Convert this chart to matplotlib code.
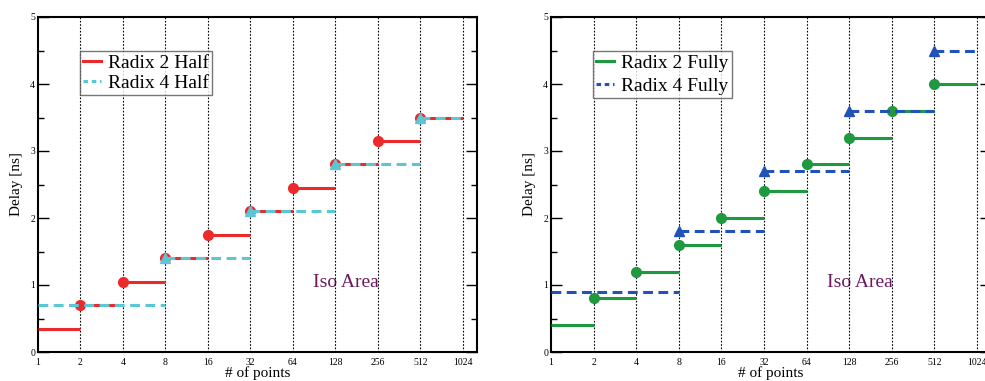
import numpy as np
import matplotlib
matplotlib.use("Agg")
import matplotlib.pyplot as plt
from matplotlib.lines import Line2D
from matplotlib.ticker import FixedLocator, MultipleLocator, NullLocator

plt.rcParams['font.family'] = ['Liberation Serif', 'DejaVu Serif']

# number of points on the x axis
points = [1, 2, 4, 8, 16, 32, 64, 128, 256, 512, 1024]

# Radix 2: one step per doubling
r2_starts = [1, 2, 4, 8, 16, 32, 64, 128, 256, 512]
r2_ends = [2, 4, 8, 16, 32, 64, 128, 256, 512, 1024]
# Radix 4: one step per x4
r4_starts = [1, 8, 32, 128, 512]
r4_ends = [8, 32, 128, 512, 1024]

half_r2 = [0.35, 0.7, 1.05, 1.4, 1.75, 2.1, 2.45, 2.8, 3.15, 3.5]
half_r4 = [0.7, 1.4, 2.1, 2.8, 3.5]
fully_r2 = [0.4, 0.8, 1.2, 1.6, 2.0, 2.4, 2.8, 3.2, 3.6, 4.0]
fully_r4 = [0.9, 1.8, 2.7, 3.6, 4.5]

RED = '#ec2a2c'
CYAN = '#5ac6d6'
GREEN = '#1f9940'
BLUE = '#2152b5'
PURPLE = '#6a1a5c'

fig = plt.figure(figsize=(9.85, 3.81), dpi=100)
ax1 = fig.add_axes([38/985, 1-352/381, 439/985, 335/381])
ax2 = fig.add_axes([551/985, 1-352/381, 440/985, 335/381])


def steps(ax, starts, ends, vals, color, ls, marker, z):
    for s, e, v in zip(starts, ends, vals):
        line, = ax.plot([s, e], [v, v], color=color, lw=2.2, zorder=z,
                        solid_capstyle='butt', dash_capstyle='butt')
        if ls == 'dashed':
            line.set_dashes((3.2, 1.8))
    ax.plot(starts[1:], vals[1:], linestyle='none', marker=marker,
            color=color, markersize=7 if marker == 'o' else 6.5, zorder=z + 0.5)


def style(ax, labels, spacing):
    ax.set_xscale('log', base=2)
    ax.set_xlim(1, 2 ** 10.33)
    ax.set_ylim(0, 5)
    ax.xaxis.set_major_locator(FixedLocator(points))
    ax.xaxis.set_minor_locator(NullLocator())
    ax.set_xticklabels([str(p) for p in points])
    ax.yaxis.set_major_locator(MultipleLocator(1))
    ax.yaxis.set_minor_locator(MultipleLocator(0.5))
    ax.tick_params(axis='x', length=0, labelsize=7, pad=4)
    ax.tick_params(axis='y', which='major', direction='in', length=8, width=1,
                   left=True, right=True, labelsize=7, pad=2)
    ax.tick_params(axis='y', which='minor', direction='in', length=4, width=1,
                   left=True, right=True)
    for sp in ax.spines.values():
        sp.set_linewidth(1.5)
    for p in points[1:]:
        ax.axvline(p, color='black', lw=0.8, ls=(0, (1.5, 1.5)), zorder=1)
    ax.set_xlabel('# of points', fontsize=11, labelpad=0)
    ax.set_ylabel('Delay [ns]', fontsize=11, labelpad=5)
    ax.text(2 ** 7.25, 1.04, 'Iso Area', color=PURPLE, fontsize=14,
            ha='center', va='center', zorder=0.5)
    handles = [Line2D([], [], color=c, lw=2.2, ls=l) for c, l in labels[1]]
    for h, (c, l) in zip(handles, labels[1]):
        if l == 'dashed':
            h.set_dashes((1.5, 1.2))
    leg = ax.legend(handles, labels[0], loc='upper left',
                    bbox_to_anchor=(0.096, 0.898), borderaxespad=0,
                    fontsize=14, frameon=True, fancybox=False,
                    handlelength=0.9, handletextpad=0.4, borderpad=0.15,
                    labelspacing=spacing)
    leg.get_frame().set_edgecolor('#555555')
    leg.get_frame().set_linewidth(1.0)


steps(ax1, r2_starts, r2_ends, half_r2, RED, 'solid', 'o', 3)
steps(ax1, r4_starts, r4_ends, half_r4, CYAN, 'dashed', '^', 4)
style(ax1, (['Radix 2 Half', 'Radix 4 Half'], [(RED, '-'), (CYAN, 'dashed')]), 0.12)

steps(ax2, r2_starts, r2_ends, fully_r2, GREEN, 'solid', 'o', 3)
steps(ax2, r4_starts, r4_ends, fully_r4, BLUE, 'dashed', '^', 4)
style(ax2, (['Radix 2 Fully', 'Radix 4 Fully'], [(GREEN, '-'), (BLUE, 'dashed')]), 0.3)

fig.savefig('out.png', dpi=100)
